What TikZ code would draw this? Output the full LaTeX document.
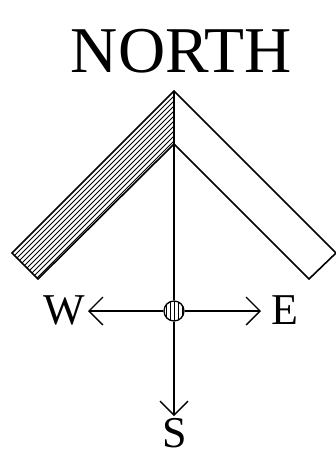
\documentclass[tikz,border=0pt]{standalone}
\usepackage{fontspec}
\setmainfont{Liberation Serif}
\usepackage{tikz}
\usetikzlibrary{positioning,arrows.meta}
\tikzset{
  wall/.style={line width=1.2pt,line join=miter},
  hatch/.style={line width=0.65pt},
  pointer/.style={line width=1.0pt,-{Straight Barb[length=10.5pt,width=21pt,line width=1.0pt]}},
  compass/.style={font=\fontsize{33}{33}\selectfont,inner sep=0pt},
}
\begin{document}
\begin{tikzpicture}[x=0.75pt,y=-0.75pt]
  \useasboundingbox (0,0) rectangle (336,451);
  \coordinate (apex) at (174,91);
  \coordinate (inner) at (174,144);
  \coordinate (leftout) at (12,253);
  \coordinate (leftin) at (38,279);
  \coordinate (rightout) at (336,253);
  \coordinate (rightin) at (309,279);
  % hatched wing
  \begin{scope}
  \clip (apex)--(leftout)--(leftin)--(inner)--cycle;
  \foreach \i in {270,275,...,315}{\draw[hatch] (0,\i)--(\i,0);}
  \end{scope}
  \draw[wall] (apex)--(leftout)--(leftin)--(inner)--(rightin)--(rightout)--cycle;
  \draw[wall] (apex)--(inner);
  \node[font=\fontsize{49}{49}\selectfont,inner sep=0pt] (title) at (181.5,51) {NORTH};
  % hub
  \begin{scope}
  \clip (174,311) circle (10);
  \foreach \i in {166,170,...,182}{\draw[hatch] (\i,300)--(\i,322);}
  \end{scope}
  \node[circle,draw,line width=1.0pt,minimum size=15pt,inner sep=0pt] (hub) at (174,311) {};
  \node[compass,anchor=east] (west) at (85,310) {W};
  \node[compass,anchor=west] (east) at (271,310) {E};
  \node[compass,anchor=north] (south) at (175,418.5) {S};
  \coordinate (westtip) at (88,311);
  \coordinate (easttip) at (261,311);
  \coordinate (southtip) at (174,416);
  \draw[line width=1.0pt] (inner)--(hub);
  \draw[pointer] (hub)--(westtip);
  \draw[pointer] (hub)--(easttip);
  \draw[pointer] (hub)--(southtip);
\end{tikzpicture}
\end{document}
